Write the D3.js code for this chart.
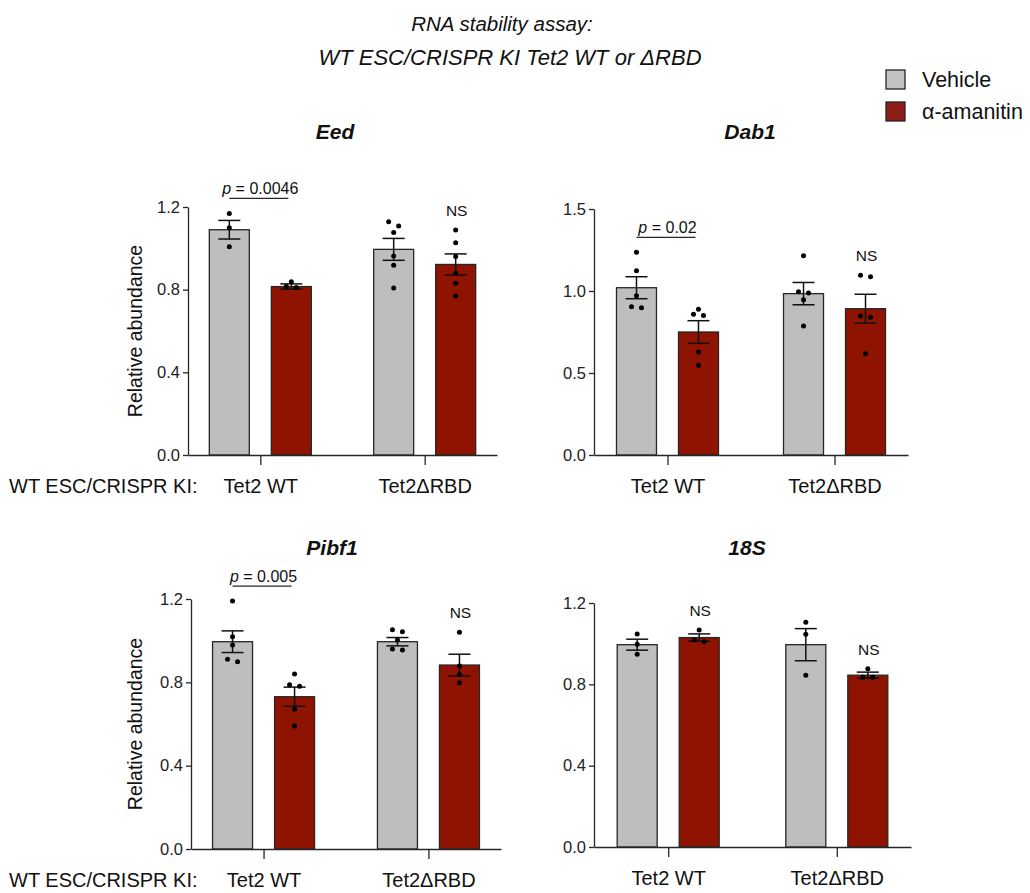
<!DOCTYPE html>
<html>
<head>
<meta charset="utf-8">
<script src="https://cdn.jsdelivr.net/npm/d3@7"></script>
<style>
body { margin: 0; background: #fff; }
svg { font-family: "Liberation Sans", Arial, sans-serif; }
</style>
</head>
<body>
<svg id="chart" width="1030" height="893"></svg>
<script>
var genes = ["Eed", "Dab1", "Pibf1", "18S"];
var groups = ["Tet2 WT", "Tet2\u0394RBD"];
var treatments = ["Vehicle", "\u03b1-amanitin"];

// bar order in every gene: Vehicle/WT, amanitin/WT, Vehicle/dRBD, amanitin/dRBD
var eedMean = [1.09, 0.815, 0.995, 0.922];
var eedSem = [0.045, 0.013, 0.053, 0.051];
var eedPoints = [[1.169, 1.10, 1.008], [0.838, 0.815, 0.81],
    [1.108, 1.129, 1.077, 0.963, 0.918, 0.808], [1.089, 1.027, 0.960, 0.879, 0.831, 0.769]];

var dab1Mean = [1.02, 0.75, 0.984, 0.892];
var dab1Sem = [0.067, 0.069, 0.068, 0.088];
var dab1Points = [[1.236, 1.124, 0.971, 0.898, 0.904], [0.888, 0.85, 0.858, 0.628, 0.547],
    [1.215, 0.988, 0.996, 0.947, 0.787], [1.096, 1.087, 0.848, 0.840, 0.618]];

var pibf1Mean = [0.995, 0.731, 0.995, 0.883];
var pibf1Sem = [0.052, 0.046, 0.02, 0.052];
var pibf1Points = [[1.19, 1.019, 0.979, 0.899, 0.911], [0.84, 0.781, 0.789, 0.671, 0.59],
    [1.053, 1.043, 1.003, 0.955, 0.96], [1.04, 0.878, 0.838, 0.798]];

var s18Mean = [0.995, 1.03, 0.995, 0.845];
var s18Sem = [0.027, 0.018, 0.079, 0.015];
var s18Points = [[1.048, 0.997, 0.948], [1.067, 1.01, 1.018],
    [1.105, 1.046, 0.845], [0.877, 0.835, 0.835]];

var yMax = [1.2, 1.5, 1.2, 1.2];
var yStep = [0.4, 0.5, 0.4, 0.4];
var wtLabel = ["p = 0.0046", "p = 0.02", "p = 0.005", "NS"];
var rbdLabel = ["NS", "NS", "NS", "NS"];

var means = [eedMean, dab1Mean, pibf1Mean, s18Mean];
var sems = [eedSem, dab1Sem, pibf1Sem, s18Sem];
var points = [eedPoints, dab1Points, pibf1Points, s18Points];

// layout of the four panels
var frames = [
    {x: 188, right: 497, top: 207, bottom: 455, titleX: 335, titleY: 139, left: true},
    {x: 594, right: 908, top: 209, bottom: 455, titleX: 750, titleY: 139, left: false},
    {x: 191, right: 501, top: 599, bottom: 849, titleX: 332, titleY: 555, left: true},
    {x: 594, right: 911, top: 603, bottom: 847, titleX: 747, titleY: 555, left: false}
];

var colors = {"Vehicle": "#bebebe", "\u03b1-amanitin": "#8e1300"};
var ink = "#262626";

var svg = d3.select("#chart");

svg.append("text").attr("x", 502).attr("y", 31).attr("text-anchor", "middle")
    .attr("font-size", 20.5).attr("font-style", "italic").attr("fill", "#111")
    .text("RNA stability assay:");
svg.append("text").attr("x", 510).attr("y", 65).attr("text-anchor", "middle")
    .attr("font-size", 22).attr("font-style", "italic").attr("fill", "#111")
    .text("WT ESC/CRISPR KI Tet2 WT or \u0394RBD");

var legend = svg.append("g");
legend.selectAll("rect").data(treatments).enter().append("rect")
    .attr("x", 886).attr("y", function(d, i) { return 70 + i * 32; })
    .attr("width", 19).attr("height", 19)
    .attr("fill", function(d, i) { return i ? "#8f1d18" : "#c2c2c2"; })
    .attr("stroke", ink).attr("stroke-width", 1.3);
legend.selectAll("text").data(treatments).enter().append("text")
    .attr("x", 922).attr("y", function(d, i) { return 87 + i * 32; })
    .attr("font-size", 21.5).attr("fill", "#111")
    .text(function(d) { return d; });

// spread points with nearly the same height side by side
function spread(vals, y) {
    var idx = vals.map(function(v, i) { return i; })
        .sort(function(a, b) { return vals[b] - vals[a]; });
    var off = vals.map(function() { return 0; });
    var clusters = [], cur = [idx[0]];
    for (var k = 1; k < idx.length; k++) {
        if (Math.abs(y(vals[idx[k]]) - y(vals[idx[k - 1]])) < 4.5) cur.push(idx[k]);
        else { clusters.push(cur); cur = [idx[k]]; }
    }
    clusters.push(cur);
    clusters.forEach(function(c) {
        c.forEach(function(i, j) { off[i] = (j - (c.length - 1) / 2) * 10; });
    });
    return off;
}

function annot(g, label, cx, y, x1, x2) {
    var t = g.append("text").attr("x", cx).attr("y", y).attr("text-anchor", "middle")
        .attr("fill", "#111");
    if (label.charAt(0) === "p") {
        t.attr("font-size", 16);
        t.append("tspan").attr("font-style", "italic").text("p");
        t.append("tspan").text(label.slice(1));
        g.append("line").attr("x1", x1).attr("x2", x2)
            .attr("y1", y + 4).attr("y2", y + 4)
            .attr("stroke", ink).attr("stroke-width", 1.2);
    } else {
        t.attr("font-size", 15.5).text(label);
    }
}

genes.forEach(function(gene, gi) {
    var f = frames[gi];
    var g = svg.append("g");

    var y = d3.scaleLinear().domain([0, yMax[gi]]).range([f.bottom, f.top]);
    var x0 = d3.scalePoint().domain(groups).range([f.x, f.right]).padding(0.44);
    var x1 = d3.scaleBand().domain(treatments).range([-51, 51]).paddingInner(0.355);

    var bars = [];
    groups.forEach(function(grp, a) {
        treatments.forEach(function(tr, b) {
            var k = a * 2 + b;
            bars.push({group: grp, treat: tr, mean: means[gi][k], sem: sems[gi][k],
                pts: points[gi][k], cx: x0(grp) + x1(tr) + x1.bandwidth() / 2});
        });
    });

    g.selectAll("rect.bar").data(bars).enter().append("rect")
        .attr("class", "bar")
        .attr("x", function(d) { return x0(d.group) + x1(d.treat); })
        .attr("width", x1.bandwidth())
        .attr("y", function(d) { return y(d.mean); })
        .attr("height", function(d) { return y(0) - y(d.mean); })
        .attr("fill", function(d) { return colors[d.treat]; })
        .attr("stroke", ink).attr("stroke-width", 1.3);

    bars.forEach(function(d) {
        var eb = g.append("g").attr("stroke", "#111").attr("stroke-width", 1.5);
        eb.append("line").attr("x1", d.cx).attr("x2", d.cx)
            .attr("y1", y(d.mean - d.sem)).attr("y2", y(d.mean + d.sem));
        [d.mean - d.sem, d.mean + d.sem].forEach(function(v) {
            eb.append("line").attr("x1", d.cx - 11).attr("x2", d.cx + 11)
                .attr("y1", y(v)).attr("y2", y(v));
        });
        var off = spread(d.pts, y);
        g.selectAll(null).data(d.pts).enter().append("circle")
            .attr("cx", function(v, i) { return d.cx + off[i]; })
            .attr("cy", function(v) { return y(v); })
            .attr("r", 2.5).attr("fill", "#000");
    });

    var yAxis = g.append("g").attr("transform", "translate(" + f.x + ",0)")
        .call(d3.axisLeft(y).tickValues(d3.range(0, yMax[gi] + 0.01, yStep[gi]))
            .tickFormat(d3.format(".1f")).tickSize(5).tickSizeOuter(0).tickPadding(3));
    yAxis.selectAll("text").attr("font-size", 16.5).attr("fill", "#222").attr("font-family", null);
    yAxis.selectAll("path, line").attr("stroke", ink).attr("stroke-width", 1.3);

    var xAxis = g.append("g").attr("transform", "translate(0," + f.bottom + ")")
        .call(d3.axisBottom(x0).tickSize(10).tickSizeOuter(0));
    xAxis.selectAll("text").attr("font-size", 20).attr("fill", "#111")
        .attr("font-family", null).attr("dy", null).attr("y", 38);
    xAxis.selectAll("path, line").attr("stroke", ink).attr("stroke-width", 1.3);

    g.append("text").attr("x", f.titleX).attr("y", f.titleY).attr("text-anchor", "middle")
        .attr("font-size", 21).attr("font-weight", "bold").attr("font-style", "italic")
        .attr("fill", "#111").text(gene);

    if (f.left) {
        g.append("text").attr("transform", "translate(142," + ((f.top + f.bottom) / 2 + 0) + ") rotate(-90)")
            .attr("text-anchor", "middle").attr("font-size", 19.5).attr("fill", "#111")
            .text("Relative abundance");
        g.append("text").attr("x", 9).attr("y", f.bottom + 38)
            .attr("font-size", 20).attr("fill", "#111").text("WT ESC/CRISPR KI:");
    }

    // significance labels
    [wtLabel[gi], rbdLabel[gi]].forEach(function(label, a) {
        var veh = bars[a * 2], ama = bars[a * 2 + 1];
        if (label.charAt(0) === "p") {
            var top = d3.min(veh.pts.concat(ama.pts), function(v) { return y(v); });
            annot(g, label, (veh.cx + ama.cx) / 2, top - 19, veh.cx, ama.cx - 3);
        } else {
            var hi = Math.min(d3.min(ama.pts, function(v) { return y(v); }), y(ama.mean + ama.sem));
            annot(g, label, ama.cx + 1, hi - 14);
        }
    });
});
</script>
</body>
</html>
